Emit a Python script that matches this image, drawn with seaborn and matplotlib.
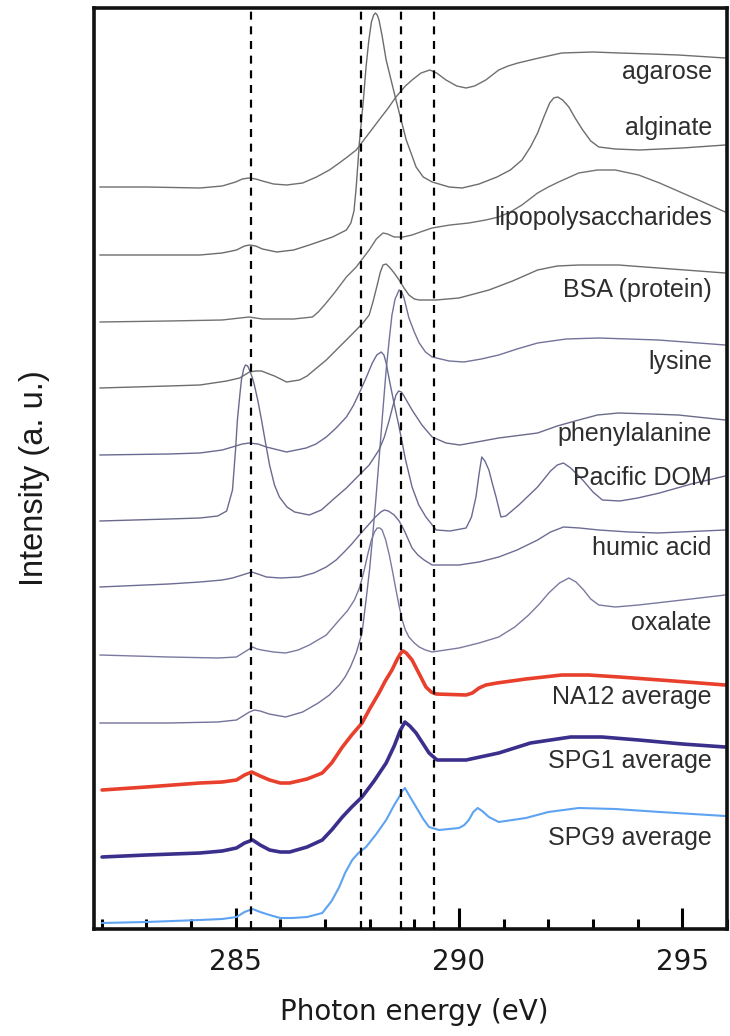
import matplotlib
matplotlib.use("Agg")
import matplotlib.pyplot as plt
import seaborn as sns
import pandas as pd

# ---------------- data (photon energy in eV, stacked intensity in a.u.) ----------------
agarose_eV = [281.96, 283.0, 284.2, 284.7, 285.0, 285.15, 285.3, 285.45, 285.6, 285.85, 286.14, 286.5,
              286.81, 287.1, 287.32, 287.5, 287.7, 287.99, 288.21, 288.4, 288.59, 288.8, 288.95, 289.15,
              289.35, 289.5, 289.71, 289.95, 290.16, 290.35, 290.6, 290.89, 291.1, 291.32, 291.79, 292.3,
              293.0, 293.59, 294.3, 294.91, 295.96]
agarose_I = [742, 742, 741, 743, 747, 750, 751, 750, 748, 745, 744, 746,
             752, 759, 766, 772, 779, 796, 809, 820, 832, 843, 849, 856,
             859, 856, 849, 843, 841, 843, 849, 859, 863, 866, 871, 876,
             877, 876, 875, 874, 871]

alginate_eV = [281.96, 283.0, 284.2, 284.7, 285.02, 285.2, 285.31, 285.45, 285.6, 285.92, 286.3, 286.65,
               287.17, 287.48, 287.58, 287.65, 287.70, 287.77, 287.86, 287.92, 287.98, 288.04, 288.09,
               288.13, 288.17, 288.21, 288.28, 288.37, 288.59, 288.82, 289.04, 289.2, 289.40, 289.78,
               290.07, 290.45, 290.85, 291.15, 291.41, 291.6, 291.76, 291.9, 292.03, 292.12, 292.21,
               292.32, 292.46, 292.6, 292.77, 292.95, 293.13, 293.5, 294.04, 295.0, 295.96]
alginate_I = [674, 674, 674, 676, 679, 683, 684, 683, 680, 677, 679, 684,
              692, 699, 706, 718, 742, 786, 829, 862, 888, 907, 914,
              916, 914, 909, 893, 869, 829, 789, 762, 752, 747, 742,
              741, 745, 752, 759, 769, 782, 796, 812, 826, 831, 832,
              829, 822, 811, 799, 788, 782, 780, 779, 781, 784]

lps_eV = [281.96, 283.5, 284.7, 285.3, 285.6, 286.3, 286.72, 286.85, 286.99, 287.21, 287.48, 287.70,
          287.99, 288.15, 288.30, 288.4, 288.55, 288.75, 288.95, 289.2, 289.40, 289.8, 290.22, 290.6,
          290.89, 291.15, 291.41, 291.76, 292.0, 292.23, 292.68, 293.1, 293.50, 294.02, 294.49, 294.9,
          295.36, 295.96]
lps_I = [607, 608, 609, 612, 610, 610, 612, 617, 624, 636, 652, 662,
         679, 690, 696, 695, 692, 692, 694, 698, 701, 704, 706, 709,
         712, 717, 724, 736, 742, 747, 756, 759, 759, 754, 746, 738,
         729, 717]

bsa_eV = [281.96, 283.5, 284.2, 284.8, 285.09, 285.31, 285.45, 285.58, 285.75, 285.87, 286.14, 286.43,
          286.6, 286.76, 287.03, 287.32, 287.50, 287.70, 287.85, 287.99, 288.08, 288.17, 288.24, 288.30,
          288.37, 288.44, 288.55, 288.66, 288.77, 288.88, 289.0, 289.11, 289.49, 290.00, 290.67, 291.2,
          291.76, 292.2, 292.68, 293.57, 294.46, 295.96]
bsa_I = [541, 543, 544, 548, 551, 557, 558, 558, 555, 553, 547, 549,
         553, 559, 569, 582, 590, 599, 606, 614, 628, 644, 657, 664,
         665, 662, 656, 649, 641, 634, 630, 629, 629, 631, 639, 648,
         659, 663, 664, 664, 661, 656]

lysine_eV = [281.96, 283.5, 284.6, 285.02, 285.2, 285.31, 285.42, 285.55, 285.75, 286.12, 286.5, 286.85,
             287.1, 287.32, 287.45, 287.57, 287.7, 287.83, 287.92, 288.0, 288.06, 288.14, 288.21, 288.29,
             288.37, 288.44, 288.50, 288.57, 288.66, 288.72, 288.77, 288.88, 289.0, 289.11, 289.25,
             289.40, 289.78, 290.11, 290.5, 290.89, 291.3, 291.76, 292.4, 293.13, 294.46, 295.96]
lysine_I = [206, 206, 207, 209, 214, 217, 219, 218, 215, 212, 217, 226,
            234, 244, 252, 262, 276, 296, 329, 360, 389, 430, 469, 515,
            559, 590, 614, 630, 639, 637, 631, 611, 597, 586, 577,
            572, 568, 567, 570, 574, 580, 586, 590, 591, 589, 584]

phe_eV = [281.96, 283.5, 284.20, 284.6, 284.8, 284.93, 285.0, 285.04, 285.09, 285.13, 285.18, 285.22,
          285.27, 285.31, 285.37, 285.42, 285.5, 285.58, 285.67, 285.76, 285.87, 285.98, 286.15, 286.32,
          286.65, 286.92, 287.17, 287.48, 287.70, 287.99, 288.21, 288.33, 288.44, 288.52, 288.59, 288.65,
          288.71, 288.77, 288.82, 288.95, 289.17, 289.40, 289.71, 290.02, 290.4, 290.89, 291.76, 292.2,
          292.68, 293.1, 293.57, 294.3, 294.91, 295.96]
phe_I = [408, 410, 411, 413, 418, 439, 480, 509, 532, 549, 560, 564,
         563, 559, 552, 544, 528, 509, 486, 464, 444, 432, 422, 417,
         414, 419, 429, 441, 451, 464, 479, 492, 509, 523, 534, 538,
         537, 533, 529, 519, 504, 492, 486, 484, 487, 491, 496, 503,
         509, 514, 516, 515, 514, 509]

dom_eV = [281.96, 283.5, 284.20, 284.7, 284.93, 285.15, 285.31, 285.5, 285.69, 286.14, 286.58, 286.8,
          287.03, 287.25, 287.48, 287.63, 287.77, 287.92, 288.06, 288.16, 288.26, 288.32, 288.37, 288.45,
          288.55, 288.66, 288.8, 288.95, 289.1, 289.26, 289.49, 289.8, 290.16, 290.28, 290.38, 290.45,
          290.51, 290.58, 290.67, 290.75, 290.83, 290.94, 291.05, 291.34, 291.76, 292.05, 292.2, 292.34,
          292.5, 292.77, 293.0, 293.21, 293.6, 294.0, 294.49, 295.2, 295.96]
dom_I = [474, 475, 476, 479, 482, 485, 486, 485, 482, 477, 481, 485,
         492, 501, 512, 523, 536, 551, 566, 574, 577, 574, 566, 547,
         525, 502, 470, 442, 424, 412, 399, 398, 401, 412, 432, 455,
         472, 468, 459, 445, 432, 412, 413, 424, 442, 458, 464, 466,
         461, 449, 437, 429, 428, 431, 436, 445, 453]

humic_eV = [281.96, 283.5, 284.20, 284.7, 284.93, 285.15, 285.36, 285.5, 285.69, 286.0, 286.43, 286.75,
            287.03, 287.25, 287.43, 287.6, 287.77, 287.95, 288.13, 288.25, 288.33, 288.42, 288.55, 288.66,
            288.77, 288.86, 288.95, 289.08, 289.22, 289.40, 290.00, 290.45, 290.89, 291.3, 291.76, 292.05,
            292.34, 292.7, 293.13, 293.8, 294.46, 295.96]
humic_I = [342, 345, 347, 349, 351, 354, 357, 355, 352, 351, 352, 356,
           362, 369, 377, 385, 394, 403, 412, 417, 419, 418, 414, 408,
           399, 390, 381, 374, 369, 364, 364, 367, 372, 379, 389, 397,
           402, 401, 399, 397, 396, 399]

oxalate_eV = [281.96, 283.5, 284.6, 285.02, 285.2, 285.38, 285.48, 285.58, 285.85, 286.12, 286.4, 286.65,
              287.03, 287.32, 287.5, 287.66, 287.78, 287.88, 287.96, 288.04, 288.11, 288.17, 288.23,
              288.28, 288.36, 288.44, 288.52, 288.59, 288.66, 288.73, 288.80, 288.88, 289.0, 289.11,
              289.25, 289.40, 290.00, 290.45, 290.89, 291.25, 291.56, 291.8, 292.01, 292.25, 292.46,
              292.62, 292.79, 292.95, 293.13, 293.5, 294.02, 295.0, 295.96]
oxalate_I = [274, 272, 271, 272, 277, 282, 280, 279, 277, 276, 279, 284,
             294, 309, 318, 329, 342, 359, 375, 389, 397, 401, 401,
             399, 389, 374, 356, 339, 323, 309, 299, 292, 286, 282,
             279, 277, 281, 286, 292, 302, 314, 325, 336, 346, 351,
             347, 339, 330, 324, 322, 324, 329, 334]

na12_eV = [282.01, 283.0, 284.20, 284.7, 285.02, 285.2, 285.36, 285.55, 285.76, 286.0, 286.21, 286.6,
           286.94, 287.15, 287.39, 287.6, 287.83, 288.0, 288.21, 288.35, 288.50, 288.62, 288.70, 288.75,
           288.82, 288.95, 289.1, 289.26, 289.38, 289.49, 290.16, 290.3, 290.45, 290.6, 290.85, 291.5,
           292.30, 292.9, 293.59, 294.8, 295.96]
na12_I = [139, 142, 146, 147, 149, 154, 157, 153, 149, 146, 146, 150,
          156, 166, 182, 194, 206, 220, 236, 248, 259, 270, 276, 278,
          276, 269, 256, 242, 237, 235, 234, 236, 241, 244, 246, 250,
          254, 254, 252, 248, 244]

spg1_eV = [282.01, 283.0, 284.20, 284.7, 285.02, 285.2, 285.38, 285.55, 285.76, 286.0, 286.21, 286.6,
           286.94, 287.15, 287.39, 287.6, 287.83, 288.1, 288.37, 288.55, 288.68, 288.79, 288.9, 289.04,
           289.2, 289.33, 289.51, 290.16, 290.89, 291.6, 292.50, 293.2, 294.02, 295.0, 295.96]
spg1_I = [72, 74, 76, 78, 81, 86, 89, 84, 79, 77, 77, 82,
          89, 99, 112, 122, 132, 148, 166, 183, 198, 207, 203, 196,
          185, 176, 169, 169, 176, 186, 192, 192, 189, 185, 182]

spg9_eV = [282.01, 283.0, 284.20, 284.7, 285.02, 285.2, 285.38, 285.55, 285.76, 286.0, 286.27, 286.6,
           286.94, 287.15, 287.32, 287.45, 287.61, 287.75, 287.92, 288.15, 288.37, 288.55, 288.66, 288.73,
           288.79, 288.88, 289.04, 289.2, 289.33, 289.55, 290.00, 290.12, 290.22, 290.32, 290.42, 290.52,
           290.67, 290.89, 291.5, 292.0, 292.68, 293.5, 294.5, 295.96]
spg9_I = [6, 7, 9, 10, 12, 17, 20, 17, 14, 11, 11, 12,
          16, 28, 42, 56, 69, 76, 82, 95, 109, 124, 132, 138,
          141, 134, 122, 110, 102, 99, 101, 104, 109, 117, 121, 118,
          112, 107, 111, 117, 121, 120, 117, 113]

names = ["agarose", "alginate", "lipopolysaccharides", "BSA (protein)", "lysine", "phenylalanine",
         "Pacific DOM", "humic acid", "oxalate", "NA12 average", "SPG1 average", "SPG9 average"]
energies = [agarose_eV, alginate_eV, lps_eV, bsa_eV, lysine_eV, phe_eV, dom_eV, humic_eV,
            oxalate_eV, na12_eV, spg1_eV, spg9_eV]
intens = [agarose_I, alginate_I, lps_I, bsa_I, lysine_I, phe_I, dom_I, humic_I,
          oxalate_I, na12_I, spg1_I, spg9_I]
label_y = [857, 801, 711, 639, 567, 495, 451, 381, 306, 232, 168, 91]
peak_lines = [285.35, 287.8, 288.7, 289.45]
major_ticks = [285, 290, 295]
minor_ticks = [282, 283, 284, 286, 287, 288, 289, 291, 292, 293, 294, 296]

# ---------------- styling ----------------
colors = ["#6f6f6f", "#6c6c6c", "#727272", "#6d6d6d", "#72729a", "#6a6a8c",
          "#6a6a92", "#6c6c94", "#7a7aa0", "#e8402c", "#3b2f8c", "#5ea3f2"]
widths = [1.0, 1.0, 1.0, 1.0, 1.0, 1.0, 1.0, 1.0, 1.0, 2.6, 2.6, 1.5]

sns.set_style("white")
plt.rcParams["font.family"] = ["DejaVu Sans"]

fig = plt.figure(figsize=(7.30, 10.36), dpi=100)
ax = fig.add_axes([94 / 730, (1036 - 929) / 1036, (727 - 94) / 730, (929 - 8) / 1036])

frames = []
for n, e, i in zip(names, energies, intens):
    frames.append(pd.DataFrame({"energy": e, "intensity": i, "spectrum": n}))
df = pd.concat(frames, ignore_index=True)

for n, c, w in zip(names, colors, widths):
    sub = df[df["spectrum"] == n]
    sns.lineplot(data=sub, x="energy", y="intensity", ax=ax, color=c, linewidth=w,
                 sort=False, estimator=None, legend=False)

for p in peak_lines:
    ax.axvline(p, color="black", linewidth=1.6, linestyle=(0, (3.6, 3.0)), zorder=5)

for n, y in zip(names, label_y):
    ax.text(295.66, y, n, ha="right", va="center", fontsize=18,
            family=["Liberation Sans", "DejaVu Sans"], color="#2e2e2e")

ax.set_xlim(281.83, 295.96)
ax.set_ylim(0, 921)
ax.set_xticks(major_ticks)
ax.set_xticks(minor_ticks, minor=True)
ax.set_yticks([])
ax.tick_params(axis="x", which="both", bottom=True, top=False)
ax.tick_params(axis="x", which="major", direction="in", length=15, width=2.2,
               labelsize=20, pad=14, color="black", labelcolor="#1a1a1a")
ax.tick_params(axis="x", which="minor", direction="in", length=7.5, width=2.2, color="black")
for s in ax.spines.values():
    s.set_linewidth(2.6)
    s.set_color("#111111")
    s.set_visible(True)

ax.set_xlabel("Photon energy (eV)", fontsize=20, color="#1a1a1a")
ax.xaxis.set_label_coords(0.506, -0.075)
ax.set_ylabel("Intensity (a. u.)", fontsize=23.5, color="#1a1a1a",
              family=["Liberation Sans", "DejaVu Sans"])
ax.yaxis.set_label_coords(-0.07, 0.49)

fig.savefig("out.png", dpi=100)
